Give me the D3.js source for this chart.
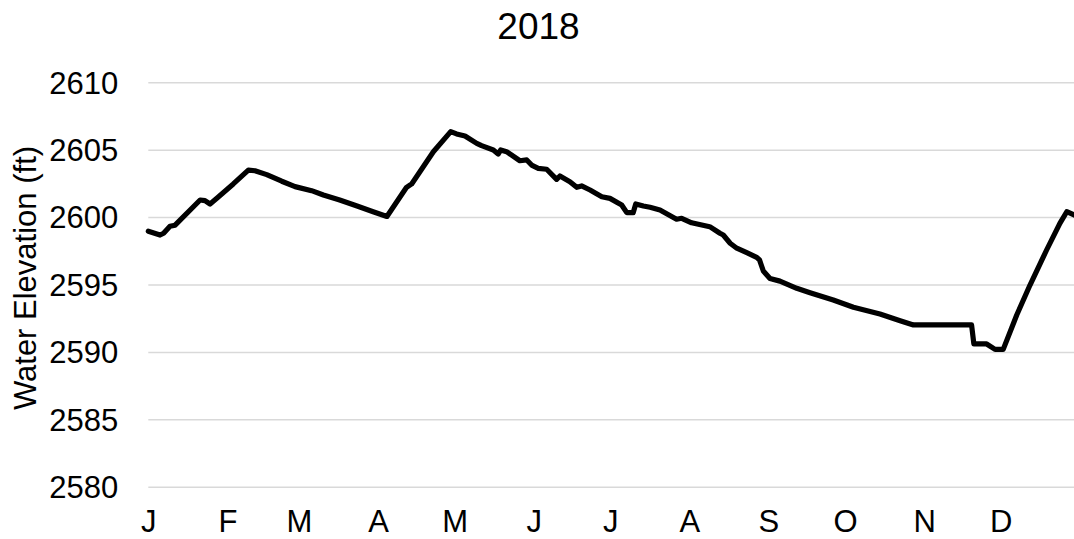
<!DOCTYPE html>
<html>
<head>
<meta charset="utf-8">
<script src="https://cdn.jsdelivr.net/npm/d3@7"></script>
<style>
  html, body { margin: 0; padding: 0; background: #fff; }
  svg { display: block; }
  text { font-family: "Liberation Sans", Arial, sans-serif; fill: #000; }
</style>
</head>
<body>
<svg id="chart" width="1074" height="539"></svg>
<script>
// ---- data ----
const chartTitle = "2018";
const yAxisTitle = "Water Elevation (ft)";
// day of year (0 = 1 Jan 2018)
const dayOfYear = [0, 4.6, 6, 8.5, 10.5, 20.3, 22.2, 24.2, 27.2, 33.3, 39.2, 41.8, 46.4, 52.3, 57.5, 64, 68.6, 75, 81.8, 88.1, 93.5,
  101.2, 103.2, 111.7, 118.5, 120.8, 124.1, 128.7, 130.6, 135.2, 137.1, 138.1, 140.4, 145.6, 148.3, 150.2, 152.8, 156.1,
  160, 161.3, 165.2, 167.9, 169.8, 173.1, 177.7, 180.9, 185.5, 187.5, 190, 191, 194, 196.6, 200.5, 207, 209, 212.9,
  216, 220, 224, 225.3, 228, 230.6, 234.5, 238.4, 239.5, 241, 243.6, 247.5, 254.1, 259.3, 268.4, 276.3, 286.7, 294.6,
  299.8, 322.6, 323.5, 328.5, 331.8, 335, 340.3, 345.5, 352, 357.2, 359.9, 364];
const elevation = [2598.95, 2598.67, 2598.80, 2599.32, 2599.40, 2601.27, 2601.22, 2600.97, 2601.45, 2602.46, 2603.49, 2603.44, 2603.15, 2602.66, 2602.26, 2601.96, 2601.64, 2601.27, 2600.82, 2600.40, 2600.05,
  2602.21, 2602.46, 2604.85, 2606.34, 2606.17, 2606.02, 2605.47, 2605.30, 2604.98, 2604.68, 2604.98, 2604.85, 2604.18, 2604.24, 2603.86, 2603.62, 2603.55,
  2602.80, 2603.05, 2602.63, 2602.21, 2602.31, 2602.01, 2601.51, 2601.39, 2600.90, 2600.33, 2600.33, 2600.97, 2600.82, 2600.73, 2600.53, 2599.84, 2599.91, 2599.58,
  2599.45, 2599.29, 2598.80, 2598.67, 2598.06, 2597.69, 2597.36, 2597.02, 2596.82, 2596.00, 2595.45, 2595.25, 2594.72, 2594.39, 2593.85, 2593.31, 2592.81, 2592.31,
  2592.00, 2592.00, 2590.59, 2590.59, 2590.19, 2590.19, 2592.74, 2594.96, 2597.56, 2599.54, 2600.40, 2600.05];
const yTicks = [2580, 2585, 2590, 2595, 2600, 2605, 2610];
const monthLabels = ["J", "F", "M", "A", "M", "J", "J", "A", "S", "O", "N", "D"];

// ---- layout ----
const svg = d3.select("#chart");
const W = 1074, H = 539;
const plotLeft = 148.3, plotRight = plotLeft + 365 * 2.552;
const plotTop = 82.3, plotBottom = 486.7;

const start = new Date(Date.UTC(2018, 0, 1));
const end = new Date(Date.UTC(2019, 0, 1));
const x = d3.scaleUtc().domain([start, end]).range([plotLeft, plotRight]);
const y = d3.scaleLinear().domain([2580, 2610]).range([plotBottom, plotTop]);

const points = dayOfYear.map((d, i) => ({
  date: new Date(start.getTime() + d * 86400000),
  v: elevation[i]
}));

// gridlines (via y axis)
const yAxis = d3.axisLeft(y).tickValues(yTicks).tickSize(-(W - plotLeft)).tickFormat(d3.format("d")).tickPadding(30);
const gy = svg.append("g").attr("transform", `translate(${plotLeft},0)`).call(yAxis);
gy.select(".domain").remove();
gy.selectAll(".tick line").attr("stroke", "#d9d9d9").attr("stroke-width", 1.5);
gy.selectAll(".tick text")
  .attr("font-size", 31)
  .attr("font-family", "'Liberation Sans', Arial, sans-serif")
  .attr("fill", "#000")
  .attr("x", -30)
  .attr("dy", "0.35em");

// x axis: month labels at month starts
const months = d3.utcMonth.range(start, end);
const xAxis = d3.axisBottom(x).tickValues(months).tickSize(0).tickPadding(0)
  .tickFormat(d => monthLabels[d.getUTCMonth()]);
const gx = svg.append("g").attr("transform", `translate(0,${plotBottom})`).call(xAxis);
gx.select(".domain").remove();
gx.selectAll(".tick text")
  .attr("font-size", 31)
  .attr("font-family", "'Liberation Sans', Arial, sans-serif")
  .attr("fill", "#000")
  .attr("y", 45.5)
  .attr("dy", 0);

// line
const line = d3.line().x(d => x(d.date)).y(d => y(d.v)).curve(d3.curveLinear);
svg.append("path")
  .datum(points)
  .attr("fill", "none")
  .attr("stroke", "#000")
  .attr("stroke-width", 5.2)
  .attr("stroke-linejoin", "round")
  .attr("stroke-linecap", "round")
  .attr("d", line);

// title
svg.append("text")
  .attr("x", W / 2 + 1.5)
  .attr("y", 39.3)
  .attr("text-anchor", "middle")
  .attr("font-size", 37)
  .text(chartTitle);

// y axis title
svg.append("text")
  .attr("transform", `translate(35.7,278) rotate(-90)`)
  .attr("text-anchor", "middle")
  .attr("font-size", 31)
  .text(yAxisTitle);
</script>
</body>
</html>
